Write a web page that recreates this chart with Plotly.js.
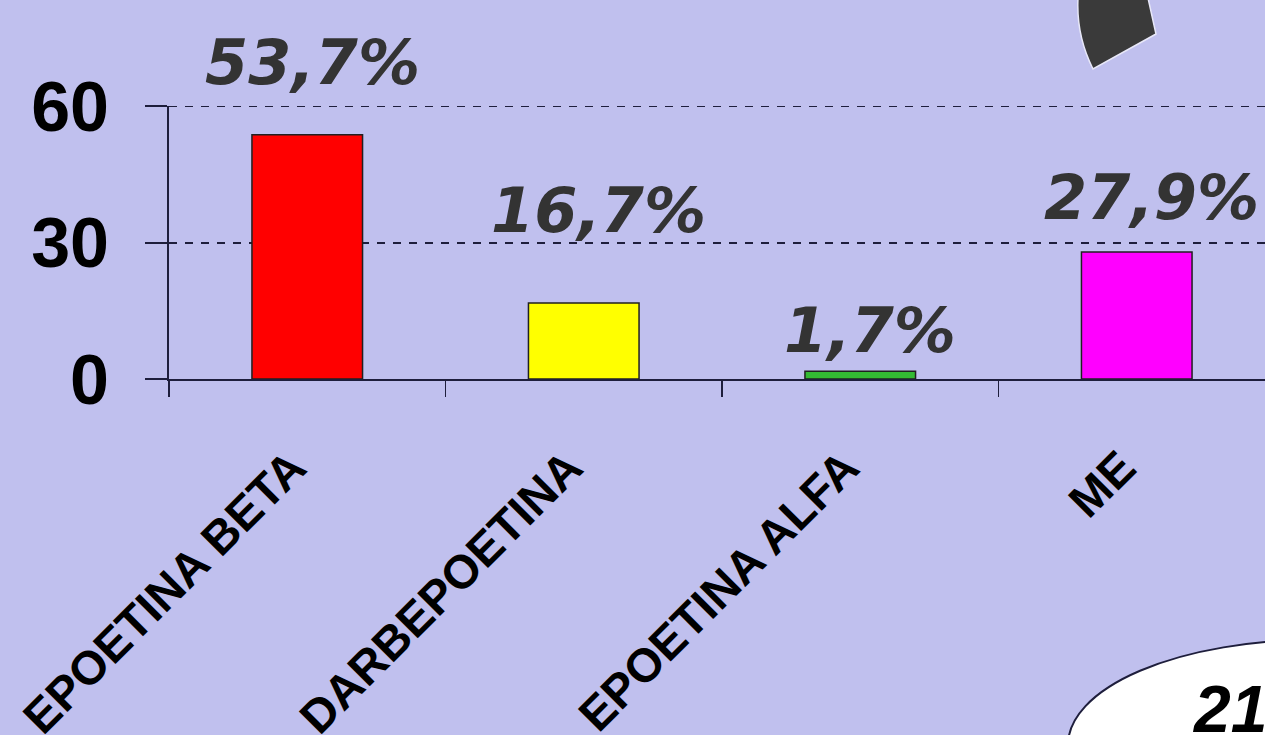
<!DOCTYPE html>
<html>
<head>
<meta charset="utf-8">
<script src="https://cdn.plot.ly/plotly-3.0.1.min.js"></script>
<style>
html,body{margin:0;padding:0;background:#C0C0EE;overflow:hidden;}
#chart{width:1265px;height:735px;}
</style>
</head>
<body>
<div id="chart"></div>
<script>
// ---- data ----
const categories = ["EPOETINA BETA", "DARBEPOETINA", "EPOETINA ALFA", "ME"];
const values = [53.7, 16.7, 1.7, 27.9];
const barColors = ["#FF0000", "#FFFF00", "#33BB33", "#FF00FF"];
const yTickValues = [0, 30, 60];
const yTickLabels = ["0", "30", "60"];

// label offsets (styling only)
const labelYShift = [72, 93, 41, 55];
const labelXShift = [5, 15, 10, 15];

const valueLabels = values.map(v => v.toFixed(1).replace('.', ',') + '%');

const bg = "#C0C0EE";
const axisColor = "#1E1E3C";
const sans = "Liberation Sans, Arial, sans-serif";

const trace = {
  type: 'bar',
  x: categories,
  y: values,
  width: 0.4,
  marker: {color: barColors, line: {color: '#202020', width: 1.5}},
  hoverinfo: 'skip'
};

const annotations = categories.map((c, i) => ({
  x: c, y: values[i], xref: 'x', yref: 'y',
  text: valueLabels[i], showarrow: false,
  xanchor: 'center', yanchor: 'middle',
  yshift: labelYShift[i], xshift: labelXShift[i],
  font: {family: 'DejaVu Sans, sans-serif', size: 62, color: '#333333', weight: 'bold', style: 'italic'}
}));

// pixel -> paper helpers for decorations
const px = v => (v - 169) / 1096;
const py = v => (379 - v) / 273;

// decorative "21" badge text at bottom right
annotations.push({
  xref: 'paper', yref: 'paper',
  x: px(1190), y: py(670),
  xanchor: 'left', yanchor: 'top', showarrow: false,
  text: '21',
  font: {family: sans, size: 66, color: '#000000', weight: 'bold', style: 'italic'}
});

const topTick = yTickValues[yTickValues.length - 1];

const shapes = [
  // dashed gridline at the top tick (Plotly drops the gridline at the range edge)
  {
    type: 'line', xref: 'paper', yref: 'y', x0: 0, x1: 1, y0: topTick, y1: topTick,
    layer: 'below', line: {color: axisColor, width: 2, dash: '8px,8px'}
  },
  {
    type: 'path', xref: 'paper', yref: 'paper', layer: 'below',
    path: `M ${px(1078)} ${py(-2)} L ${px(1148)} ${py(-2)} L ${px(1156)} ${py(34)} L ${px(1093)} ${py(69)} Q ${px(1076)} ${py(35)} ${px(1078)} ${py(-2)} Z`,
    fillcolor: '#3A3A3A', line: {color: '#E8E8F8', width: 1.5}
  },
  {
    type: 'circle', xref: 'paper', yref: 'paper', layer: 'above',
    x0: px(1068), x1: px(1560), y0: py(640), y1: py(850),
    fillcolor: '#FFFFFF', line: {color: '#1E1E3C', width: 2}
  }
];

const layout = {
  width: 1265, height: 735,
  paper_bgcolor: bg, plot_bgcolor: bg,
  margin: {l: 169, r: 0, t: 106, b: 356, pad: 0},
  showlegend: false,
  bargap: 0.6,
  xaxis: {
    type: 'category',
    range: [-0.5, 3.5 - 10 / 276.5],
    showline: true, linecolor: axisColor, linewidth: 2,
    showgrid: false, zeroline: false,
    ticks: 'outside', tickson: 'boundaries', ticklen: 16, tickwidth: 1.5, tickcolor: axisColor,
    tickangle: -45,
    ticklabelstandoff: 40,
    ticklabelshift: -15,
    tickfont: {family: sans, size: 47, color: '#000000', weight: 'bold'}
  },
  yaxis: {
    range: [0, 60],
    tickvals: yTickValues, ticktext: yTickLabels,
    showline: true, linecolor: axisColor, linewidth: 2,
    showgrid: true, gridcolor: axisColor, gridwidth: 2, griddash: '8px,8px',
    zeroline: false,
    ticks: 'outside', ticklen: 22, tickwidth: 2, tickcolor: axisColor,
    ticklabelstandoff: 22,
    tickfont: {family: sans, size: 70, color: '#000000', weight: 'bold'}
  },
  annotations: annotations,
  shapes: shapes
};

Plotly.newPlot('chart', [trace], layout, {staticPlot: true, displayModeBar: false});
</script>
</body>
</html>
